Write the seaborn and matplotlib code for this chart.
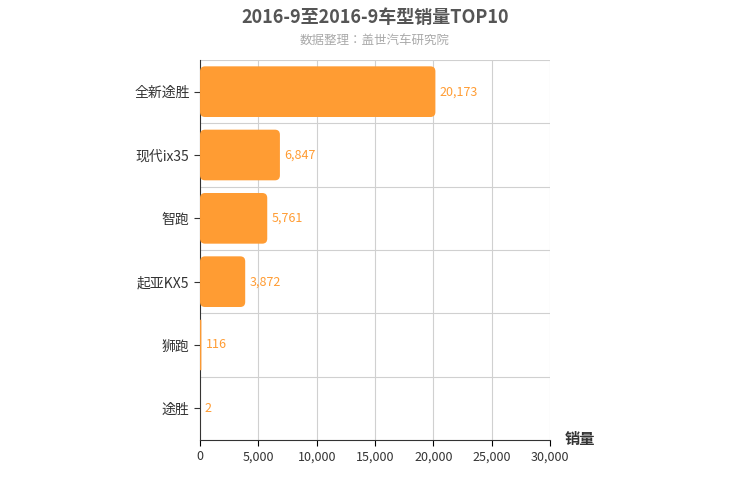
import matplotlib
matplotlib.use("Agg")
import matplotlib.pyplot as plt
from matplotlib import font_manager as fm
import seaborn as sns
import pandas as pd
from matplotlib.patches import FancyBboxPatch

names = {f.name for f in fm.fontManager.ttflist}
cjk = [n for n in names if "CJK" in n]
pref = [n for n in ["Noto Sans CJK SC", "Noto Sans CJK JP"] if n in names] or cjk
plt.rcParams["font.family"] = "sans-serif"
plt.rcParams["font.sans-serif"] = pref + ["DejaVu Sans"]

models = ["全新途胜", "现代ix35", "智跑", "起亚KX5", "狮跑", "途胜"]
sales = [20173, 6847, 5761, 3872, 116, 2]
df = pd.DataFrame({"model": models, "sales": sales})

fig = plt.figure(figsize=(7.5, 5), dpi=100)
ax = fig.add_axes([0.2667, 0.12, 0.4667, 0.76])
sns.barplot(data=df, x="sales", y="model", color="#ff9c33", saturation=1, width=0.8, ax=ax)

xpp = 30000 / (0.4667 * 750)
ypp = 6 / (0.76 * 500)
aspect = ypp / xpp
for p in list(ax.patches):
    x, y, w, h = p.get_x(), p.get_y(), p.get_width(), p.get_height()
    p.remove()
    if w <= 0:
        continue
    r = min(5 * xpp, w / 2)
    fb = FancyBboxPatch((x, y), w, h, boxstyle=f"round,pad=0,rounding_size={r}",
                        mutation_aspect=aspect, fc="#ff9c33", ec="none", zorder=3)
    ax.add_patch(fb)

for i, v in enumerate(sales):
    ax.text(v + 350, i, f"{v:,}", va="center", ha="left", color="#ff9c33", fontsize=9, zorder=4)

ax.set_xlim(0, 30000)
ax.set_ylim(5.5, -0.5)
ax.set_xticks(range(0, 30001, 5000))
ax.set_xticklabels([f"{t:,}" for t in range(0, 30001, 5000)], fontsize=9, color="#333")
ax.tick_params(axis="y", labelsize=10, colors="#333", length=4)
ax.tick_params(axis="x", length=4)
ax.set_xlabel("")
ax.set_ylabel("")
for s in ["top", "right"]:
    ax.spines[s].set_visible(False)
ax.spines["left"].set_color("#333")
ax.spines["bottom"].set_color("#333")
for t in range(5000, 30001, 5000):
    ax.axvline(t, color="#d0d0d0", lw=0.8, zorder=0)
for b in [-0.5, 0.5, 1.5, 2.5, 3.5, 4.5]:
    ax.axhline(b, color="#d0d0d0", lw=0.8, zorder=0)

fig.text(0.5, 0.965, "2016-9至2016-9车型销量TOP10", ha="center", va="center",
         fontsize=13, fontweight="bold", color="#555555")
fig.text(0.5, 0.92, "数据整理：盖世汽车研究院", ha="center", va="center",
         fontsize=9, color="#aaaaaa")
fig.text(0.753, 0.122, "销量", ha="left", va="center", fontsize=11, fontweight="bold", color="#333")

fig.savefig("out.png", dpi=100)
